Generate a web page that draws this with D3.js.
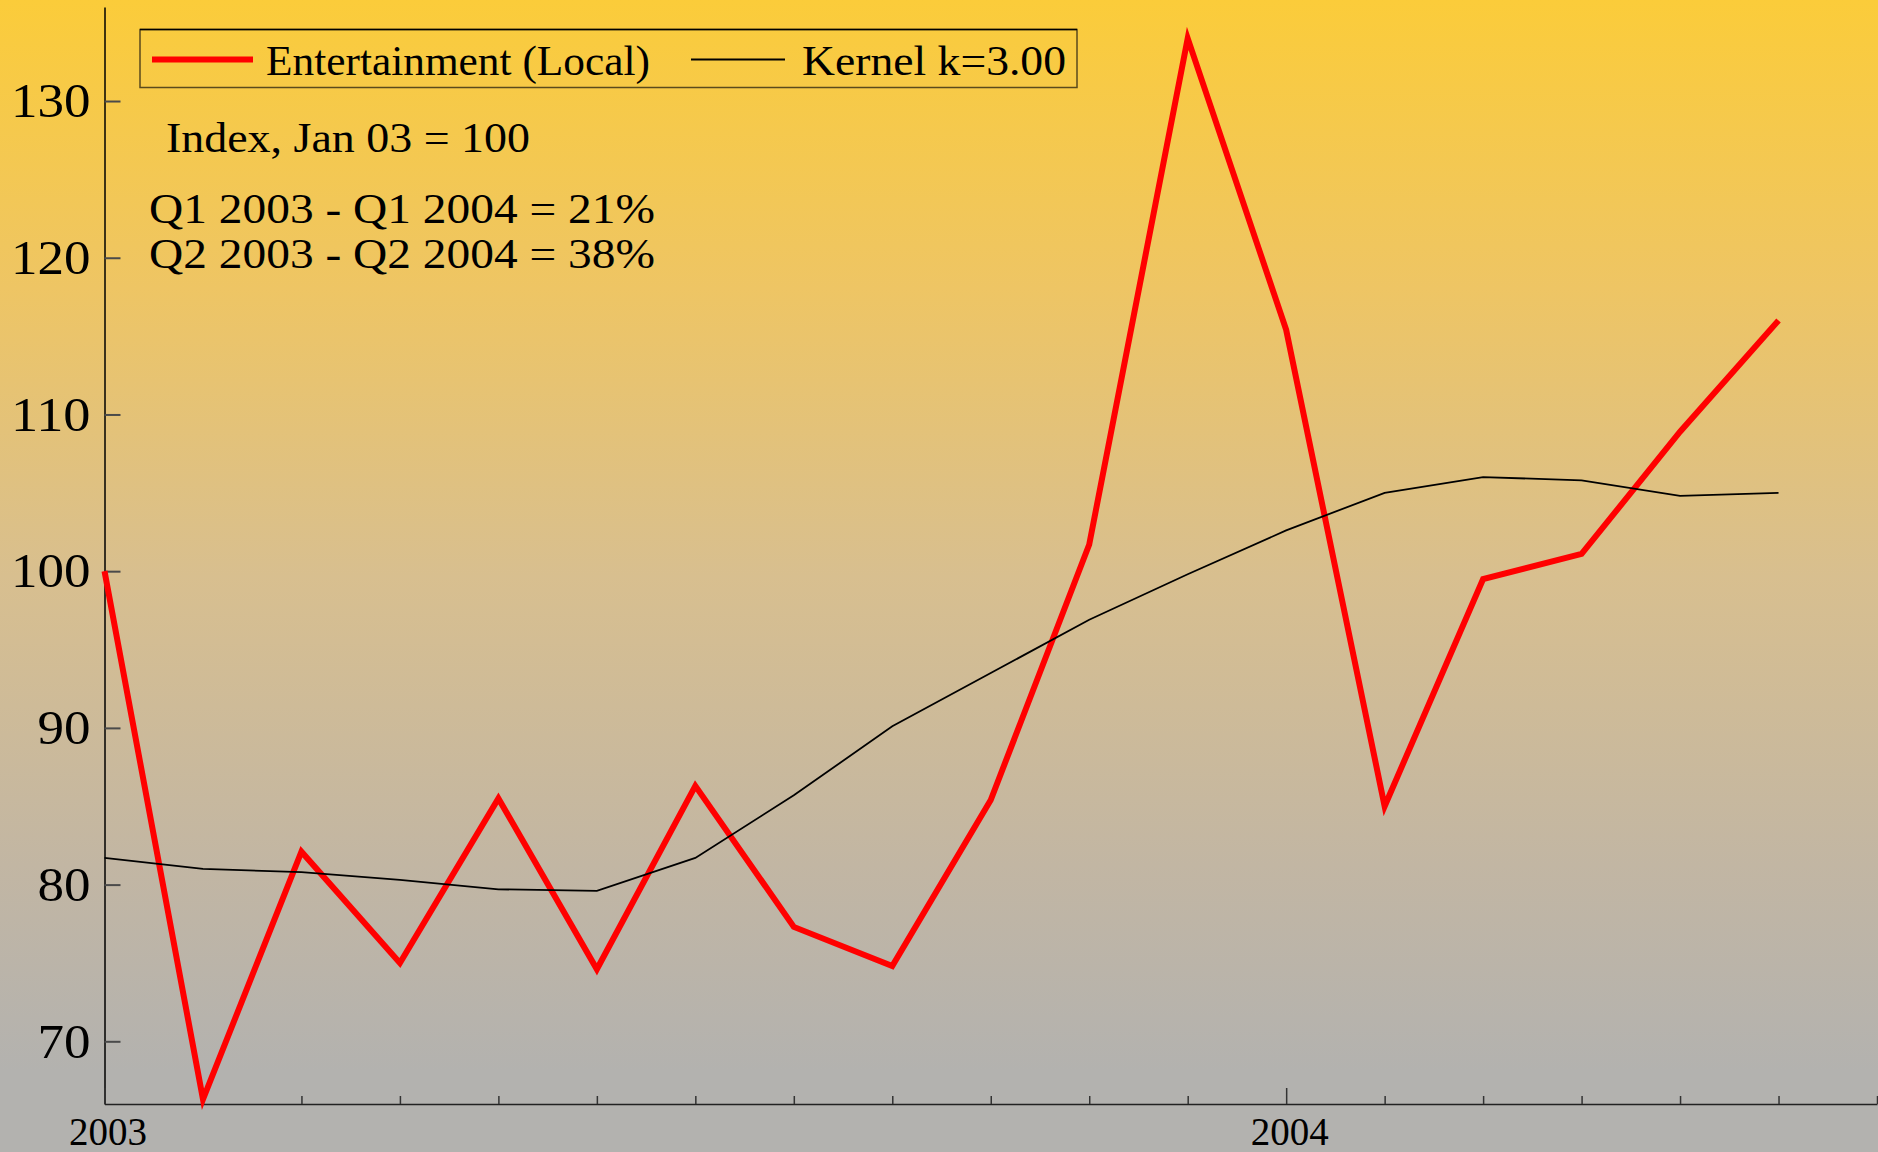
<!DOCTYPE html>
<html>
<head>
<meta charset="utf-8">
<script src="https://cdn.jsdelivr.net/npm/d3@7"></script>
<style>
  html, body { margin: 0; padding: 0; background: #b3b2af; }
  svg { display: block; }
  text { font-family: "Liberation Serif", "Times New Roman", serif; fill: #000; }
</style>
</head>
<body>
<div id="chart"></div>
<script>
// months on the x axis (one point per month)
const months = [
  "Jan 2003", "Feb 2003", "Mar 2003", "Apr 2003", "May 2003", "Jun 2003",
  "Jul 2003", "Aug 2003", "Sep 2003", "Oct 2003", "Nov 2003", "Dec 2003",
  "Jan 2004", "Feb 2004", "Mar 2004", "Apr 2004", "May 2004", "Jun 2004"
];

// Entertainment (Local), index Jan 03 = 100
const entertainment = [
  100.0, 66.3, 82.1, 75.0, 85.5, 74.6, 86.3, 77.3, 74.8,
  85.4, 101.7, 134.0, 115.4, 85.0, 99.5, 101.1, 108.9, 116.0
];

// Kernel smoother, k = 3.00
const kernel = [
  81.7, 81.0, 80.8, 80.3, 79.7, 79.6, 81.7, 85.7, 90.1,
  93.5, 96.9, 99.8, 102.6, 105.0, 106.0, 105.8, 104.8, 105.0
];

const yTicks = [70, 80, 90, 100, 110, 120, 130];
const seriesNames = ["Entertainment (Local)", "Kernel k=3.00"];
const notes = ["Index, Jan 03 = 100", "Q1 2003 - Q1 2004 = 21%", "Q2 2003 - Q2 2004 = 38%"];

const W = 1878, H = 1152;

const svg = d3.select("#chart").append("svg")
  .attr("width", W)
  .attr("height", H);

// background gradient, yellow at the top fading to grey
const grad = svg.append("defs").append("linearGradient")
  .attr("id", "bg")
  .attr("x1", 0).attr("y1", 0).attr("x2", 0).attr("y2", 1);
[
  [0, "#fbcc3a"], [0.25, "#eec564"], [0.5, "#d8bf8f"],
  [0.75, "#c2b6a3"], [0.93, "#b3b2af"], [1, "#b3b2af"]
].forEach(([o, c]) => grad.append("stop").attr("offset", o).attr("stop-color", c));

svg.append("rect")
  .attr("width", W)
  .attr("height", H)
  .attr("fill", "url(#bg)");

// scales
const x = d3.scaleLinear()
  .domain([0, months.length])
  .range([104.5, 1877]);

const y = d3.scaleLinear()
  .domain([66, 136])
  .range([1104, 7]);

// y axis
const yAxis = svg.append("g")
  .attr("transform", `translate(${x(0)},0)`)
  .call(d3.axisLeft(y).tickValues(yTicks).tickSize(-16).tickSizeOuter(0).tickPadding(14));
yAxis.select(".domain").attr("stroke", "#000").attr("stroke-width", 1.5);
yAxis.selectAll(".tick line").attr("stroke", "#4a4a4a").attr("stroke-width", 2);
yAxis.selectAll(".tick text")
  .style("font-family", "'Liberation Serif', serif")
  .attr("font-size", 49)
  .attr("textLength", d => String(d).length * 26.5)
  .attr("lengthAdjust", "spacingAndGlyphs");

// x axis: a tick every month, year labels at January
const xAxis = svg.append("g")
  .attr("transform", `translate(0,${y.range()[0]})`)
  .call(d3.axisBottom(x)
    .tickValues(d3.range(0, months.length + 1))
    .tickSize(-8)
    .tickSizeOuter(0)
    .tickPadding(13)
    .tickFormat(i => (i % 12 === 0 && i < months.length) ? months[i].split(" ")[1] : ""));
xAxis.select(".domain").attr("stroke", "#222").attr("stroke-width", 1.5);
xAxis.selectAll(".tick line")
  .attr("stroke", "#333")
  .attr("stroke-width", 1.5)
  .attr("y2", d => d % 12 === 0 ? -16 : -8);
xAxis.selectAll(".tick text")
  .style("font-family", "'Liberation Serif', serif")
  .attr("font-size", 39)
  .attr("dx", 3);

// lines
const line = d3.line()
  .x((d, i) => x(i))
  .y(d => y(d));

svg.append("path")
  .datum(entertainment)
  .attr("d", line)
  .attr("fill", "none")
  .attr("stroke", "#ff0000")
  .attr("stroke-width", 6)
  .attr("stroke-linejoin", "miter")
  .attr("stroke-miterlimit", 10);

svg.append("path")
  .datum(kernel)
  .attr("d", line)
  .attr("fill", "none")
  .attr("stroke", "#000")
  .attr("stroke-width", 1.8);

// legend
const legend = svg.append("g");
legend.append("rect")
  .attr("x", 140).attr("y", 29.5)
  .attr("width", 937).attr("height", 58)
  .attr("fill", "none")
  .attr("stroke", "#5a4a1c")
  .attr("stroke-width", 1.5);
legend.append("line")
  .attr("x1", 140).attr("x2", 1077)
  .attr("y1", 29.5).attr("y2", 29.5)
  .attr("stroke", "#000").attr("stroke-width", 1.5);

const legendItems = [
  {name: seriesNames[0], color: "#ff0000", width: 6, x0: 152, x1: 253, tx: 266, len: 384},
  {name: seriesNames[1], color: "#000", width: 2, x0: 691, x1: 785, tx: 802, len: 264}
];
legendItems.forEach(d => {
  legend.append("line")
    .attr("x1", d.x0).attr("x2", d.x1)
    .attr("y1", 59.5).attr("y2", 59.5)
    .attr("stroke", d.color)
    .attr("stroke-width", d.width);
  legend.append("text")
    .attr("x", d.tx).attr("y", 75)
    .attr("font-size", 43)
    .attr("textLength", d.len)
    .attr("lengthAdjust", "spacingAndGlyphs")
    .text(d.name);
});

// annotations
const noteLayout = [
  {x: 166, y: 152, len: 364},
  {x: 149, y: 223, len: 506},
  {x: 149, y: 268, len: 506}
];
notes.forEach((t, i) => {
  svg.append("text")
    .attr("x", noteLayout[i].x).attr("y", noteLayout[i].y)
    .attr("font-size", 43)
    .attr("textLength", noteLayout[i].len)
    .attr("lengthAdjust", "spacingAndGlyphs")
    .text(t);
});
</script>
</body>
</html>
